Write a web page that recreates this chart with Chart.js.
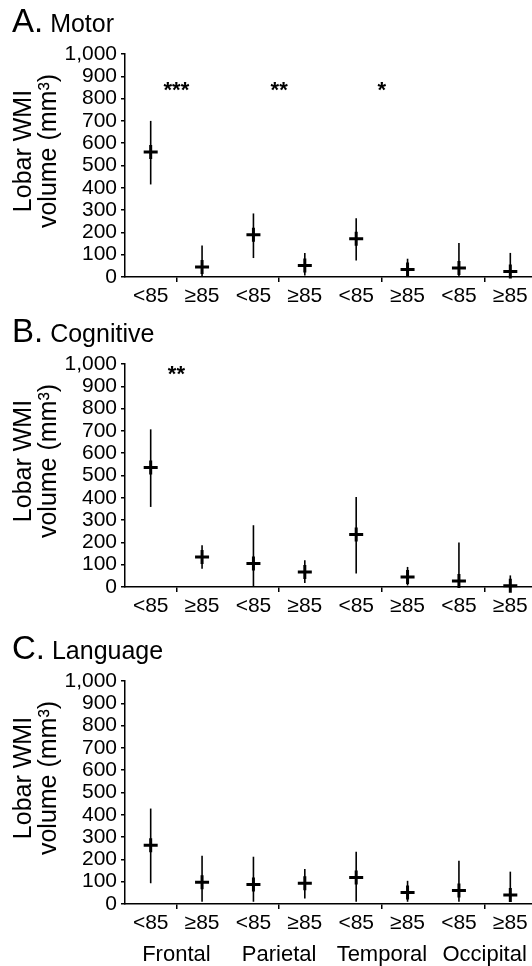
<!DOCTYPE html>
<html>
<head>
<meta charset="utf-8">
<script src="https://cdn.jsdelivr.net/npm/chart.js@4.4.1/dist/chart.umd.min.js"></script>
<style>
    html, body { margin: 0; padding: 0; background: #fff; }
    #wrap { position: relative; width: 532px; height: 966px; overflow: hidden; }
    canvas { position: absolute; left: 0; }
</style>
</head>
<body>
<div id="wrap">
    <canvas id="motor" width="546" height="310" style="top:0px"></canvas>
    <canvas id="cognitive" width="546" height="317" style="top:310px"></canvas>
    <canvas id="language" width="546" height="339" style="top:627px"></canvas>
</div>
<script>
// categories along x: score group inside each lobe
const groups = ['<85', '≥85', '<85', '≥85', '<85', '≥85', '<85', '≥85'];
const lobes = ['Frontal', 'Parietal', 'Temporal', 'Occipital'];
const yTicks = [0, 100, 200, 300, 400, 500, 600, 700, 800, 900, 1000];
const yTitle = ['Lobar WMI', 'volume (mm³)'];

// A. Motor
const motorMean = [560, 45, 189, 52, 171, 34, 40, 25];
const motorLow = [415, 5, 85, 7, 74, 7, 5, 3];
const motorHigh = [700, 141, 285, 108, 264, 82, 152, 108];
const motorStars = ['***', '**', '*', ''];
const motorStarLevel = 857;

// B. Cognitive
const cogMean = [536, 135, 105, 67, 235, 45, 27, 6];
const cogLow = [359, 82, 3, 18, 60, 7, 3, 0];
const cogHigh = [707, 187, 277, 120, 404, 90, 199, 52];
const cogStars = ['**', '', '', ''];
const cogStarLevel = 973;

// C. Language
const langMean = [264, 97, 87, 93, 119, 52, 60, 40];
const langLow = [93, 10, 10, 25, 10, 10, 10, 10];
const langHigh = [428, 216, 212, 157, 234, 104, 194, 145];

const FONT = "'Liberation Sans', Arial, sans-serif";
Chart.defaults.font.family = FONT;
Chart.defaults.color = '#000';

// ticks at each category plus the lobe centres (between the two groups)
const xTickVals = [];
groups.forEach((g, i) => {
    xTickVals.push(i);
    if (i % 2 === 0) xTickVals.push(i + 0.5);
});

const panelDecor = {
    id: 'panelDecor',
    beforeDatasetsDraw(chart, args, opts) {
        const { ctx, scales: { x, y } } = chart;
        ctx.save();
        ctx.strokeStyle = '#000';
        ctx.lineWidth = 1.6;
        opts.low.forEach((lo, i) => {
            const px = x.getPixelForValue(i);
            ctx.beginPath();
            ctx.moveTo(px, y.getPixelForValue(lo));
            ctx.lineTo(px, y.getPixelForValue(opts.high[i]));
            ctx.stroke();
        });
        ctx.restore();
    },
    afterDraw(chart, args, opts) {
        const { ctx, chartArea, scales: { x, y } } = chart;
        ctx.save();
        ctx.fillStyle = '#000';

        // panel heading
        ctx.textAlign = 'left';
        ctx.textBaseline = 'alphabetic';
        ctx.font = `33px ${FONT}`;
        ctx.fillText(opts.letter + '.', 12, 32);
        const w = ctx.measureText(opts.letter + '.').width;
        ctx.font = `25px ${FONT}`;
        ctx.fillText(' ' + opts.name, 12 + w, 32);

        // y axis title, two lines
        ctx.font = `25px ${FONT}`;
        ctx.textAlign = 'center';
        [31, 56].forEach((bx, i) => {
            ctx.save();
            ctx.translate(bx, chartArea.top + 97);
            ctx.rotate(-Math.PI / 2);
            ctx.fillText(yTitle[i], 0, 0);
            ctx.restore();
        });

        // significance stars at the lobe centres
        ctx.font = `bold 22px ${FONT}`;
        (opts.stars || []).forEach((s, i) => {
            if (!s) return;
            ctx.fillText(s, x.getPixelForValue(2 * i + 0.5), y.getPixelForValue(opts.starLevel) + 11);
        });

        // lobe names under the last panel
        if (opts.showLobes) {
            ctx.font = `22px ${FONT}`;
            lobes.forEach((l, i) => {
                ctx.fillText(l, x.getPixelForValue(2 * i + 0.5), chartArea.bottom + 57);
            });
        }
        ctx.restore();
    }
};

function makePanel(canvasID, letter, name, mean, low, high, stars, starLevel, showLobes) {
    const canvas = document.getElementById(canvasID);
    if (!canvas) {
        console.error(`Canvas element with ID ${canvasID} not found.`);
        return;
    }
    const h = canvas.height;

    new Chart(canvas.getContext('2d'), {
        type: 'scatter',
        data: {
            datasets: [{
                data: mean.map((m, i) => ({ x: i, y: m })),
                pointStyle: 'cross',
                pointRadius: 7,
                pointBorderWidth: 3,
                borderColor: '#000',
                backgroundColor: '#000',
                clip: false
            }]
        },
        options: {
            responsive: false,
            animation: false,
            events: [],
            layout: { padding: { top: 54, right: 2, left: 0, bottom: 0 } },
            plugins: {
                legend: { display: false },
                tooltip: { enabled: false },
                panelDecor: { letter, name, low, high, stars, starLevel, showLobes }
            },
            scales: {
                x: {
                    type: 'linear',
                    min: -0.5,
                    max: 7.5,
                    afterBuildTicks: s => { s.ticks = xTickVals.map(v => ({ value: v })); },
                    afterFit: s => { s.height = h - 277; },
                    border: { color: '#000', width: 1.5 },
                    grid: {
                        drawOnChartArea: false,
                        tickLength: 5,
                        lineWidth: 1.5,
                        color: c => (c.tick && c.tick.value % 1) ? '#000' : 'rgba(0,0,0,0)',
                        tickColor: c => (c.tick && c.tick.value % 1) ? '#000' : 'rgba(0,0,0,0)'
                    },
                    ticks: {
                        autoSkip: false,
                        maxRotation: 0,
                        padding: 2,
                        color: '#000',
                        font: { size: 21 },
                        callback: v => (v % 1 ? '' : groups[v])
                    }
                },
                y: {
                    min: 0,
                    max: 1000,
                    afterBuildTicks: s => { s.ticks = yTicks.map(v => ({ value: v })); },
                    afterFit: s => { s.width = 125; },
                    border: { color: '#000', width: 1.5 },
                    grid: { drawOnChartArea: false, tickLength: 4, lineWidth: 1.5, color: '#000' },
                    ticks: {
                        autoSkip: false,
                        padding: 4,
                        color: '#000',
                        font: { size: 21, lineHeight: 1 },
                        callback: v => v.toLocaleString('en-US')
                    }
                }
            }
        },
        plugins: [panelDecor]
    });
}

makePanel('motor', 'A', 'Motor', motorMean, motorLow, motorHigh, motorStars, motorStarLevel, false);
makePanel('cognitive', 'B', 'Cognitive', cogMean, cogLow, cogHigh, cogStars, cogStarLevel, false);
makePanel('language', 'C', 'Language', langMean, langLow, langHigh, [], 0, true);
</script>
</body>
</html>
